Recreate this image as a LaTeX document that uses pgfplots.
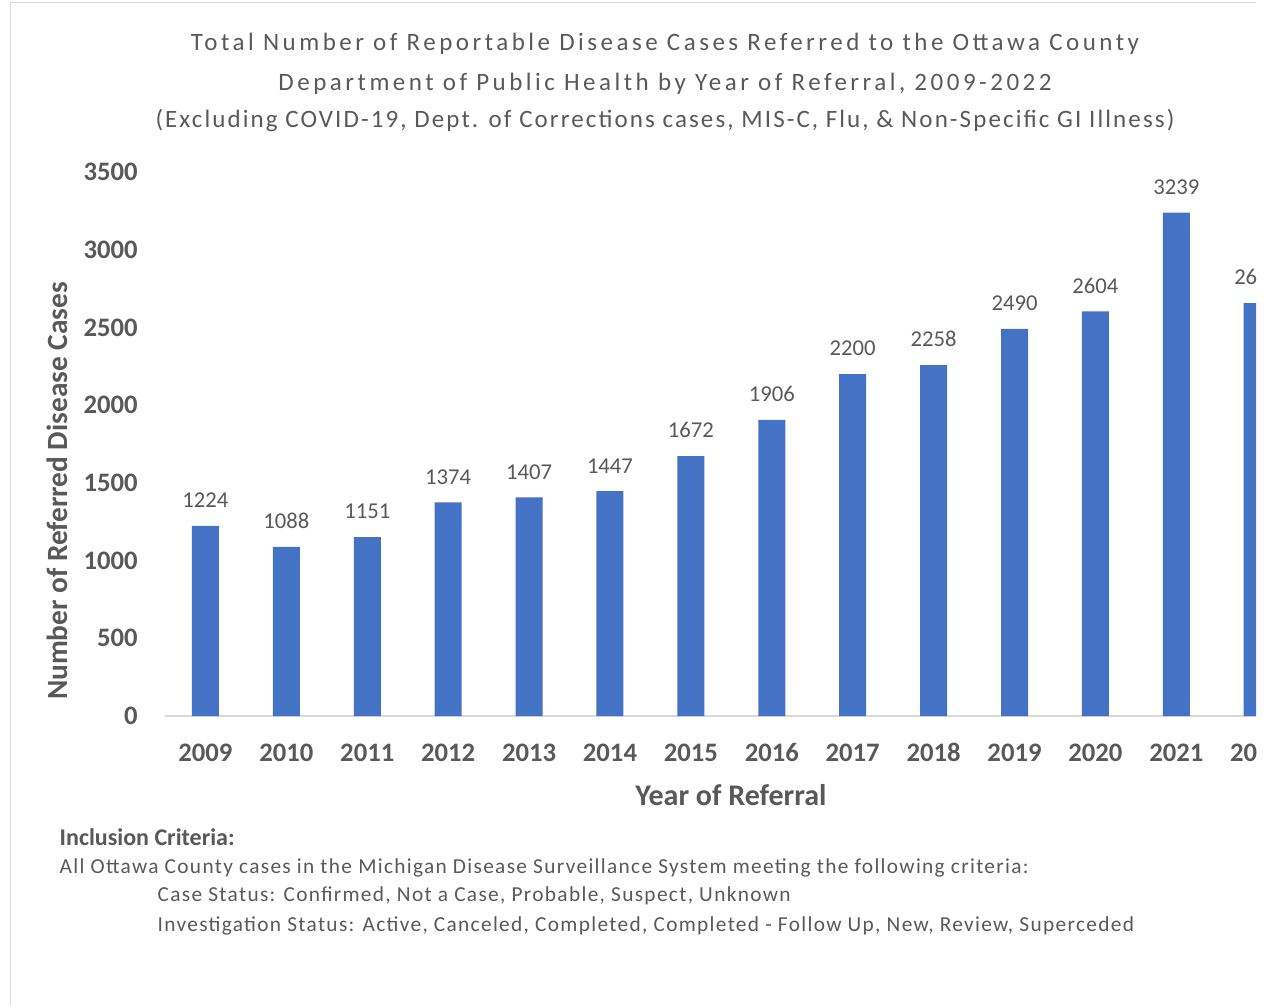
\documentclass[border=0pt]{standalone}
\usepackage{fontspec}
\setmainfont{Carlito}
\newfontfamily\titlefont{Carlito}[LetterSpace=14]
\newfontfamily\subtitlefont{Carlito}[LetterSpace=8.4]
\newfontfamily\notefont{Carlito}[LetterSpace=6.2]
\usepackage{pgfplots}
\pgfplotsset{compat=1.18}
\definecolor{barc}{HTML}{4472C4}
\definecolor{txt}{HTML}{595959}
\definecolor{axl}{HTML}{D9D9D9}
\begin{document}
\begin{tikzpicture}
\useasboundingbox (0pt,0pt) rectangle (951.75pt,-753.75pt);
\begin{scope}
\clip (0pt,0pt) rectangle (942pt,-753.75pt);
\draw[axl, line width=0.75pt] (7.5pt,-2.25pt) -- (951.75pt,-2.25pt);
\draw[axl, line width=0.75pt] (7.5pt,-2.25pt) -- (7.5pt,-753.75pt);
\begin{axis}[at={(123.75pt,-537pt)}, anchor=south west, scale only axis,
  width=849.5pt, height=408pt,
  xmin=-0.5, xmax=13.5, ymin=0, ymax=3500,
  ytick={0,500,1000,1500,2000,2500,3000,3500},
  xtick={0,1,2,3,4,5,6,7,8,9,10,11,12,13},
  xticklabels={2009,2010,2011,2012,2013,2014,2015,2016,2017,2018,2019,2020,2021,2022},
  axis line style={draw=none}, tick style={draw=none},
  /pgf/number format/.cd, 1000 sep={}, assume math mode=true, /pgfplots/.cd,
  yticklabel style={font=\bfseries\fontsize{20}{24}\selectfont, text=txt, xshift=-17pt},
  xticklabel style={font=\bfseries\fontsize{20}{24}\selectfont, text=txt, yshift=-12pt, text height=14pt, text depth=0pt},
  ybar, bar width=20.25pt,
  nodes near coords,
  every node near coord/.append style={font=\fontsize{17}{20}\selectfont, text=txt, yshift=10pt},
  clip=false]
\draw[axl, line width=1pt] (axis cs:-0.5,0) -- (axis cs:13.5,0);
\addplot[fill=barc, draw=none] coordinates {(0,1224) (1,1088) (2,1151) (3,1374) (4,1407) (5,1447) (6,1672) (7,1906) (8,2200) (9,2258) (10,2490) (11,2604) (12,3239) (13,2657)};
\end{axis}
\begin{scope}[x=0.75pt,y=0.75pt]
\node[text=txt, font=\titlefont\fontsize{18.75}{20}\selectfont] at (665,-44) {Total Number of Reportable Disease Cases Referred to the Ottawa County};
\node[text=txt, font=\titlefont\fontsize{18.75}{20}\selectfont] at (665,-84) {Department of Public Health by Year of Referral, 2009-2022};
\node[text=txt, font=\subtitlefont\fontsize{18.75}{20}\selectfont] at (665,-121) {(Excluding COVID-19, Dept. of Corrections cases, MIS-C, Flu, \& Non-Specific GI Illness)};
\node[text=txt, rotate=90, font=\bfseries\fontsize{22}{26}\selectfont] at (57,-491) {Number of Referred Disease Cases};
\node[text=txt, font=\bfseries\fontsize{22.5}{26}\selectfont] at (731,-795) {Year of Referral};
\node[text=txt, anchor=west, font=\bfseries\fontsize{18}{22}\selectfont] at (55,-837) {Inclusion Criteria:};
\node[text=txt, anchor=west, font=\notefont\fontsize{16}{20}\selectfont] at (55,-868) {All Ottawa County cases in the Michigan Disease Surveillance System meeting the following criteria:};
\node[text=txt, anchor=west, font=\notefont\fontsize{16}{20}\selectfont] at (153,-896) {Case Status: Confirmed, Not a Case, Probable, Suspect, Unknown};
\node[text=txt, anchor=west, font=\notefont\fontsize{16}{20}\selectfont] at (153,-926) {Investigation Status: Active, Canceled, Completed, Completed - Follow Up, New, Review, Superceded};
\end{scope}
\end{scope}
\end{tikzpicture}
\end{document}
